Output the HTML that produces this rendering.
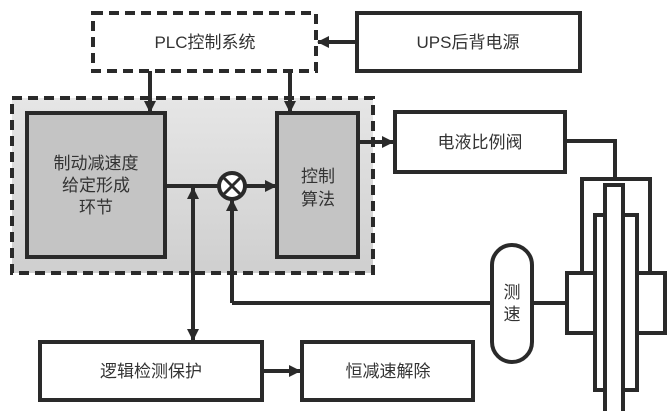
<!DOCTYPE html>
<html><head><meta charset="utf-8"><style>
html,body{margin:0;padding:0;background:#fff;}
svg{display:block;}
text{font-family:"Liberation Sans","Noto Sans CJK SC",sans-serif;fill:#333;}
</style></head><body>
<svg width="669" height="411" viewBox="0 0 669 411" xmlns="http://www.w3.org/2000/svg">
<defs>
<marker id="a" markerWidth="8" markerHeight="8" refX="7" refY="4" orient="auto" markerUnits="userSpaceOnUse"><path d="M0,0 L8,4 L0,8 z" fill="#2a2a2a"/></marker>
<marker id="b" markerWidth="12" markerHeight="12" refX="11" refY="6" orient="auto" markerUnits="userSpaceOnUse"><path d="M0,0 L12,6 L0,12 z" fill="#2a2a2a"/></marker>
<linearGradient id="g" x1="0" y1="0" x2="0" y2="1"><stop offset="0" stop-color="#e6e6e6"/><stop offset="1" stop-color="#cfcfcf"/></linearGradient>
</defs>
<g stroke="#2a2a2a" stroke-width="4" fill="none">
<!-- PLC -->
<rect x="93" y="13" width="223" height="58" stroke-dasharray="10,6" fill="#fff"/>
<rect x="357" y="13" width="223" height="58" fill="#fff"/>
<line x1="357" y1="42" x2="318" y2="42" marker-end="url(#b)"/>
<!-- outer dashed -->
<rect x="12" y="98" width="361" height="175" stroke-dasharray="10,6" fill="url(#g)"/>
<rect x="27" y="113" width="138" height="144" fill="#c4c4c4"/>
<rect x="277" y="113" width="81" height="144" fill="#c4c4c4"/>
<line x1="150" y1="71" x2="150" y2="112" marker-end="url(#b)"/>
<line x1="290" y1="71" x2="290" y2="112" marker-end="url(#b)"/>
<!-- junction -->
<line x1="165" y1="186" x2="219" y2="186"/>
<circle cx="232" cy="186" r="13" fill="#fff"/>
<line x1="223" y1="177" x2="241" y2="195" stroke-width="3"/>
<line x1="241" y1="177" x2="223" y2="195" stroke-width="3"/>
<line x1="245" y1="186" x2="276" y2="186" marker-end="url(#b)"/>
<line x1="193" y1="186" x2="193" y2="340" marker-end="url(#b)"/>
<line x1="193" y1="300" x2="193" y2="188" marker-end="url(#b)"/>
<line x1="232" y1="303" x2="232" y2="200" marker-end="url(#b)"/>
<line x1="232" y1="303" x2="492" y2="303"/>
<!-- valve -->
<line x1="358" y1="142" x2="393" y2="142" marker-end="url(#b)"/>
<rect x="395" y="112" width="170" height="60" fill="#fff"/>
<polyline points="565,141 615,141 615,179"/>
<!-- cylinder -->
<polyline points="582,272 582,179 650,179 650,272"/>
<rect x="595" y="215" width="42" height="175" fill="#fff"/>
<rect x="605" y="185" width="18" height="230" fill="#fff"/>
<rect x="567" y="273" width="28" height="60" fill="#fff"/>
<rect x="637" y="273" width="28" height="60" fill="#fff"/>
<line x1="532" y1="303" x2="567" y2="303"/>
<rect x="492" y="245" width="40" height="117" rx="20" fill="#fff"/>
<!-- bottom -->
<rect x="40" y="342" width="222" height="58" fill="#fff"/>
<rect x="302" y="342" width="171" height="58" fill="#fff"/>
<line x1="262" y1="371" x2="300" y2="371" marker-end="url(#b)"/>
</g>
<g font-size="17" text-anchor="middle">
<text x="205" y="48">PLC控制系统</text>
<text x="468" y="48">UPS后背电源</text>
<text x="96" y="169">制动减速度</text>
<text x="96" y="191">给定形成</text>
<text x="96" y="213">环节</text>
<text x="318" y="182">控制</text>
<text x="318" y="205">算法</text>
<text x="480" y="148">电液比例阀</text>
<text x="512" y="298">测</text>
<text x="512" y="320">速</text>
<text x="151" y="377">逻辑检测保护</text>
<text x="388" y="377">恒减速解除</text>
</g>
</svg>
</body></html>
